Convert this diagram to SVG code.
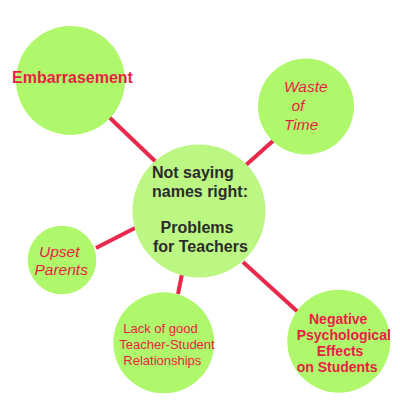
<svg xmlns="http://www.w3.org/2000/svg" width="400" height="400" viewBox="0 0 400 400">
<style>
.c{fill:#b0f86b}
.cc{fill:#bcf683}
.l{stroke:#e8294b;stroke-width:4;stroke-linecap:butt}
.t{font-family:"Liberation Sans",Arial,sans-serif;fill:#e61e44}
.b{font-weight:bold}
.i{font-style:italic}
.m{font-family:"Liberation Sans",Arial,sans-serif;font-weight:bold;fill:#2b2b2b;font-size:16px}
</style>
<rect width="400" height="400" fill="#fff"/>
<g id="connectors">
<line class="l" x1="109" y1="117" x2="156" y2="162"/>
<line class="l" x1="274" y1="140" x2="246" y2="165"/>
<line class="l" x1="96" y1="248" x2="135" y2="228"/>
<line class="l" x1="178" y1="294" x2="182" y2="274"/>
<line class="l" x1="243" y1="262" x2="298" y2="312"/>
</g>
<g id="embarrasement">
<circle class="c" cx="70.5" cy="80.5" r="54.5"/>
<text class="t b" x="12" y="83.3" font-size="16px">Embarrasement</text>
</g>
<g id="waste">
<circle class="c" cx="306" cy="106.5" r="48"/>
<text class="t i" font-size="15.5px"><tspan x="284" y="92">Waste</tspan><tspan x="291.5" y="111">of</tspan><tspan x="284" y="130">Time</tspan></text>
</g>
<g id="center">
<circle class="cc" cx="199" cy="211" r="66.5"/>
<text class="m"><tspan x="152" y="178.3">Not saying</tspan><tspan x="152" y="196.7">names right:</tspan><tspan x="160.5" y="233.3">Problems</tspan><tspan x="153" y="251.7">for Teachers</tspan></text>
</g>
<g id="upset">
<circle class="c" cx="62" cy="260" r="34.3"/>
<text class="t i" font-size="15.5px"><tspan x="39" y="256.7">Upset</tspan><tspan x="34.5" y="275">Parents</tspan></text>
</g>
<g id="lack">
<circle class="c" cx="163.8" cy="342.8" r="50.5"/>
<text class="t" font-size="13px"><tspan x="123.3" y="333.3">Lack of good</tspan><tspan x="119.3" y="349.3">Teacher-Student</tspan><tspan x="123.3" y="365">Relationships</tspan></text>
</g>
<g id="negative">
<circle class="c" cx="338.8" cy="341.2" r="51.5"/>
<text class="t b" font-size="14px"><tspan x="309" y="324">Negative</tspan><tspan x="296.7" y="340">Psychological</tspan><tspan x="316.7" y="355.5">Effects</tspan><tspan x="296.7" y="371.5">on Students</tspan></text>
</g>
</svg>
